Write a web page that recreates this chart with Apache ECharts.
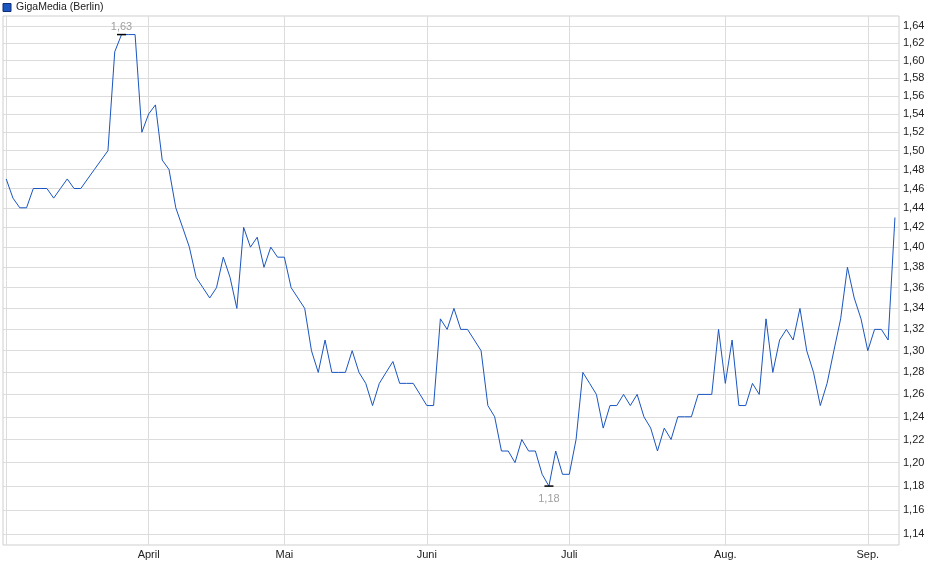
<!DOCTYPE html>
<html>
<head>
<meta charset="utf-8">
<script src="https://cdn.jsdelivr.net/npm/echarts@6/dist/echarts.min.js"></script>
<style>
html,body{margin:0;padding:0;background:#fff}
#chart{width:940px;height:579px}
</style>
</head>
<body>
<div id="chart"></div>
<script>
// Schlusskurse je Handelstag
var kurs = [
    1.47,1.45,1.44,1.44,1.46,1.46,1.46,1.45,1.46,1.47,1.46,1.46,1.47,1.48,1.49,1.50,1.61,1.63,1.63,1.63,1.52,
    1.54,1.55,1.49,1.48,1.44,1.42,1.40,1.37,1.36,1.35,1.36,1.39,1.37,1.34,1.42,1.40,1.41,1.38,1.40,1.39,
    1.39,1.36,1.35,1.34,1.30,1.28,1.31,1.28,1.28,1.28,1.30,1.28,1.27,1.25,1.27,1.28,1.29,1.27,1.27,1.27,1.26,
    1.25,1.25,1.33,1.32,1.34,1.32,1.32,1.31,1.30,1.25,1.24,1.21,1.21,1.20,1.22,1.21,1.21,1.19,1.18,1.21,1.19,
    1.19,1.22,1.28,1.27,1.26,1.23,1.25,1.25,1.26,1.25,1.26,1.24,1.23,1.21,1.23,1.22,1.24,1.24,1.24,1.26,1.26,1.26,1.32,
    1.27,1.31,1.25,1.25,1.27,1.26,1.33,1.28,1.31,1.32,1.31,1.34,1.30,1.28,1.25,1.27,1.30,1.33,1.38,1.35,1.33,
    1.30,1.32,1.32,1.31,1.43
];
// erster Handelstag je Monat (Index in kurs)
var monatIndex = [21, 41, 62, 83, 106, 127];
var monatName = ['April', 'Mai', 'Juni', 'Juli', 'Aug.', 'Sep.'];
var yTicks = [1.14,1.16,1.18,1.20,1.22,1.24,1.26,1.28,1.30,1.32,1.34,1.36,1.38,1.40,1.42,1.44,1.46,1.48,1.50,1.52,1.54,1.56,1.58,1.60,1.62,1.64];

function komma(v) {
    return v.toFixed(2).replace('.', ',');
}

var maxWert = Math.max.apply(null, kurs);
var minWert = Math.min.apply(null, kurs);
var maxIdx = kurs.indexOf(maxWert);
var minIdx = kurs.indexOf(minWert);

var chart = echarts.init(document.getElementById('chart'));

var option = {
    animation: false,
    backgroundColor: '#fff',
    textStyle: { fontFamily: 'Liberation Sans, Arial, sans-serif' },
    legend: {
        left: 2.5,
        top: 2,
        padding: 0,
        itemWidth: 8,
        itemHeight: 8,
        icon: 'rect',
        textStyle: { fontSize: 10.5, color: '#222' },
        data: [{
            name: 'GigaMedia (Berlin)',
            itemStyle: { color: '#1a55c0', borderColor: '#0e2f72', borderWidth: 1 }
        }]
    },
    grid: {
        left: 3,
        top: 16,
        right: 41,
        bottom: 34,
        show: true,
        borderColor: '#cfcfcf',
        borderWidth: 1
    },
    xAxis: {
        type: 'value',
        min: -0.47,
        max: 131.6,
        axisLine: { show: false },
        axisTick: { show: false, customValues: [0].concat(monatIndex) },
        axisLabel: {
            customValues: monatIndex,
            fontSize: 11,
            color: '#222',
            margin: 4,
            formatter: function (v) {
                return monatName[monatIndex.indexOf(v)];
            }
        },
        splitLine: { show: true, lineStyle: { color: '#dcdcdc', width: 1 } }
    },
    yAxis: {
        type: 'log',
        position: 'right',
        min: 1.1313,
        max: 1.6518,
        axisLine: { show: false },
        axisTick: { show: false, customValues: yTicks },
        axisLabel: {
            customValues: yTicks,
            fontSize: 11,
            color: '#222',
            margin: 4,
            formatter: function (v) { return komma(v); }
        },
        splitLine: { show: true, lineStyle: { color: '#dcdcdc', width: 1 } }
    },
    series: [{
        name: 'GigaMedia (Berlin)',
        type: 'line',
        showSymbol: false,
        symbol: 'none',
        lineStyle: { color: '#1a55c0', width: 1 },
        itemStyle: { color: '#1a55c0' },
        data: kurs.map(function (v, i) { return [i, v]; }),
        markPoint: {
            symbol: 'rect',
            symbolSize: [9, 1.5],
            itemStyle: { color: '#000' },
            label: {
                show: true,
                fontSize: 11,
                color: '#a0a0a0',
                formatter: function (p) { return komma(p.value); }
            },
            data: [
                { coord: [maxIdx, maxWert], value: maxWert, label: { position: 'top', distance: 1 } },
                { coord: [minIdx, minWert], value: minWert, label: { position: 'bottom', distance: 7 } }
            ]
        }
    }]
};
chart.setOption(option);
</script>
</body>
</html>
